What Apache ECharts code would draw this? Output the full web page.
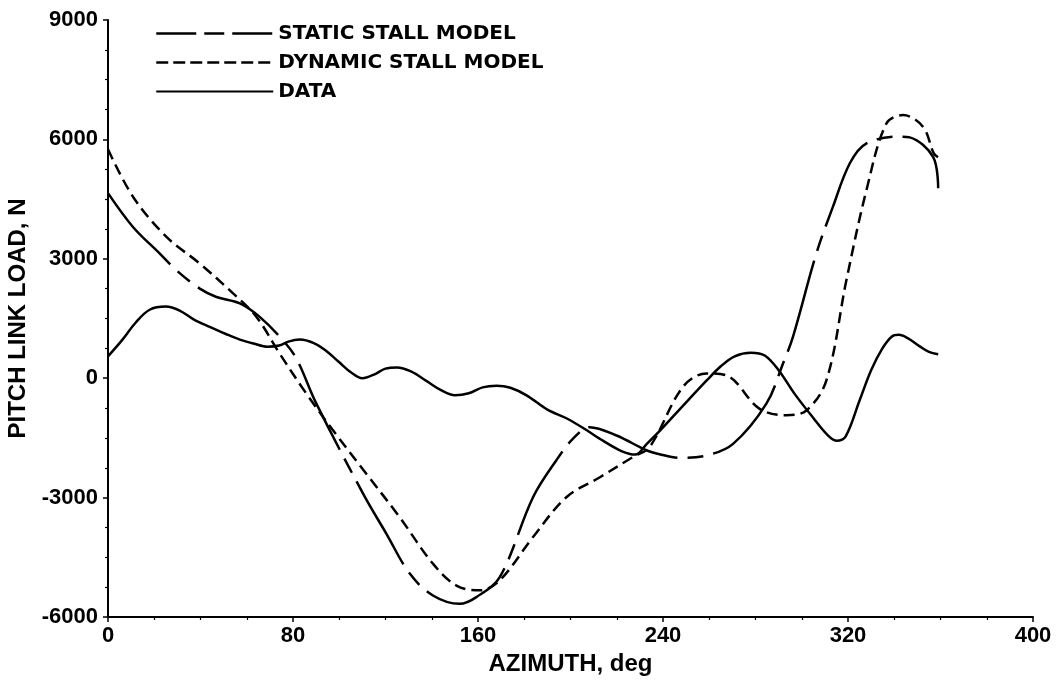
<!DOCTYPE html>
<html><head><meta charset="utf-8">
<script src="https://cdn.jsdelivr.net/npm/echarts@6/dist/echarts.min.js"></script>
<style>html,body{margin:0;padding:0;background:#fff}#c{width:1061px;height:682px}</style>
</head><body><div id="c"></div>
<script>
// Static stall model
const staticAz   = [0, 10.8, 22.4, 29.6, 39.7, 46.9, 57, 65.6, 75.7, 81.5, 90.1, 110.3, 120.4, 130.5, 140.5, 152.1, 159.3, 169.4, 183.8, 193.9, 201.1, 208.3, 219.9, 232.8, 238.5, 247.2, 258.8, 270.3, 284.7, 291.9, 296.2, 306.3, 313.5, 320.8, 328, 342.4, 346.7, 356.8, 359];
const staticLoad = [4650, 3800, 3130, 2710, 2250, 2040, 1880, 1540, 950, 490, -640, -2900, -3910, -4910, -5460, -5670, -5500, -5000, -2990, -2060, -1520, -1230, -1440, -1810, -1910, -2000, -1940, -1650, -640, 370, 1040, 3130, 4310, 5400, 5900, 6070, 6050, 5560, 4770];
// Dynamic stall model
const dynAz   = [0, 10.8, 25.3, 39.7, 54.1, 64.2, 74.2, 85.8, 97.3, 111.7, 126.1, 140.5, 150.7, 160.7, 169.4, 183.8, 198.2, 212.7, 227, 234.2, 248.6, 258.8, 267.4, 281.8, 293.4, 302, 310.7, 319.3, 328, 336.6, 343.8, 352.4, 357.1, 359];
const dynLoad = [5750, 4560, 3550, 2880, 2130, 1540, 620, -390, -1310, -2400, -3490, -4660, -5210, -5330, -5080, -3990, -2990, -2490, -1980, -1730, -220, 120, 70, -770, -930, -810, -50, 2460, 4730, 6400, 6610, 6320, 5650, 5550];
// Measured data
const dataAz   = [0, 6, 12, 18, 25, 31, 37, 44, 51, 57, 63, 69, 74, 78, 83, 89, 94, 100, 105, 110, 115, 120, 125, 131, 138, 144, 150, 156, 162, 168, 174, 181, 190, 198, 206, 214, 222, 228, 233, 239, 249, 259, 265, 271, 278, 284, 290, 297, 305, 311, 315, 319, 325, 330, 335, 339, 342, 346, 351, 355, 359];
const dataLoad = [550, 950, 1400, 1720, 1800, 1700, 1480, 1290, 1110, 970, 870, 790, 820, 920, 970, 880, 700, 400, 150, 0, 90, 240, 270, 170, -80, -300, -430, -380, -230, -190, -240, -430, -790, -1000, -1270, -1570, -1830, -1920, -1650, -1300, -670, -50, 300, 550, 640, 570, 200, -400, -1000, -1420, -1570, -1460, -560, 200, 760, 1050, 1090, 1000, 800, 660, 600];

const names = ['STATIC STALL MODEL', 'DYNAMIC STALL MODEL', 'DATA'];
const xTicks = {min: 0, max: 400, interval: 80};
const yTicks = {min: -6000, max: 9000, interval: 3000};

const pair = (a, b) => a.map((v, i) => [v, b[i]]);
const FONT = "'Liberation Sans', Arial, sans-serif";

const chart = echarts.init(document.getElementById('c'), null, {renderer: 'canvas'});
chart.setOption({
  animation: false,
  backgroundColor: '#fff',
  color: ['#000', '#000', '#000'],
  grid: {left: 108, right: 28, top: 20, bottom: 65, containLabel: false, outerBoundsMode: 'none'},
  legend: {
    orient: 'vertical', left: 150, top: 18,
    itemWidth: 117, itemHeight: 14, itemGap: 8,
    itemStyle: {opacity: 0},
    textStyle: {fontFamily: "'DejaVu Sans', sans-serif", fontWeight: 'bold', fontSize: 20, color: '#000', lineHeight: 21},
    data: [
      {name: names[0], itemStyle: {opacity: 0}, lineStyle: {type: [40, 8, 20, 8], width: 2.5, color: '#000'}},
      {name: names[1], itemStyle: {opacity: 0}, lineStyle: {type: [12, 5], width: 2.5, color: '#000'}},
      {name: names[2], itemStyle: {opacity: 0}, lineStyle: {type: 'solid', width: 1.8, color: '#000'}}
    ]
  },
  xAxis: {
    type: 'value', min: xTicks.min, max: xTicks.max, interval: xTicks.interval,
    name: 'AZIMUTH, deg', nameLocation: 'middle', nameGap: 28,
    nameTextStyle: {fontFamily: FONT, fontWeight: 'bold', fontSize: 24, color: '#000'},
    axisLine: {onZero: false, lineStyle: {color: '#000', width: 2}},
    axisTick: {length: 5, lineStyle: {color: '#000', width: 1.5}},
    minorTick: {show: true, splitNumber: 4, length: 3, lineStyle: {color: '#000', width: 1.2}},
    splitLine: {show: false},
    axisLabel: {fontFamily: FONT, fontWeight: 'bold', fontSize: 22, color: '#000', margin: 8, formatter: v => String(v)}
  },
  yAxis: {
    type: 'value', min: yTicks.min, max: yTicks.max, interval: yTicks.interval,
    name: 'PITCH LINK LOAD, N', nameLocation: 'middle', nameGap: 60, nameRotate: 90,
    nameTextStyle: {fontFamily: FONT, fontWeight: 'bold', fontSize: 24, color: '#000'},
    axisLine: {onZero: false, lineStyle: {color: '#000', width: 2}},
    axisTick: {length: 5, lineStyle: {color: '#000', width: 1.5}},
    minorTick: {show: true, splitNumber: 4, length: 3, lineStyle: {color: '#000', width: 1.2}},
    splitLine: {show: false},
    axisLabel: {fontFamily: FONT, fontWeight: 'bold', fontSize: 22, color: '#000', margin: 10, formatter: v => String(v)}
  },
  series: [
    {name: names[0], type: 'line', data: pair(staticAz, staticLoad), showSymbol: false, symbol: 'none',
     smooth: 0.35, itemStyle: {color: '#000'}, lineStyle: {color: '#000', width: 2.5, type: [95, 10, 16, 10]}},
    {name: names[1], type: 'line', data: pair(dynAz, dynLoad), showSymbol: false, symbol: 'none',
     smooth: 0.35, itemStyle: {color: '#000'}, lineStyle: {color: '#000', width: 2.5, type: [11, 6]}},
    {name: names[2], type: 'line', data: pair(dataAz, dataLoad), showSymbol: false, symbol: 'none',
     smooth: 0.35, itemStyle: {color: '#000'}, lineStyle: {color: '#000', width: 2.5, type: 'solid'}}
  ]
});
</script>
</body></html>
